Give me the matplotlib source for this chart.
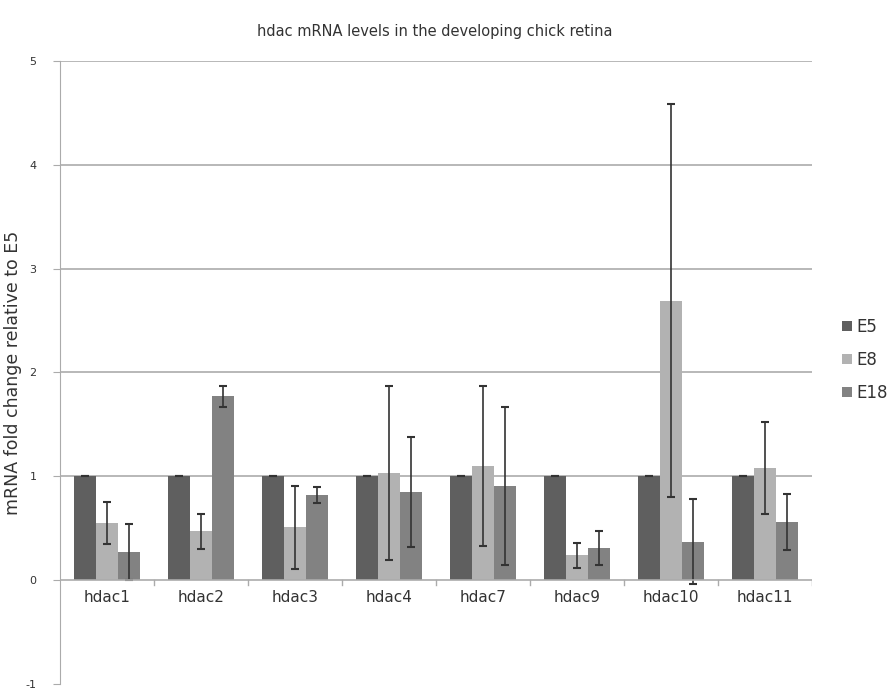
import matplotlib
matplotlib.use("Agg")
import matplotlib.pyplot as plt
import numpy as np

genes = ["hdac1", "hdac2", "hdac3", "hdac4", "hdac7", "hdac9", "hdac10", "hdac11"]
stages = ["E5", "E8", "E18"]

e5 = [1, 1, 1, 1, 1, 1, 1, 1]
e8 = [0.55, 0.47, 0.51, 1.03, 1.10, 0.24, 2.69, 1.08]
e18 = [0.27, 1.77, 0.82, 0.85, 0.91, 0.31, 0.37, 0.56]

e5_err = [0, 0, 0, 0, 0, 0, 0, 0]
e8_err = [0.20, 0.17, 0.40, 0.84, 0.77, 0.12, 1.89, 0.44]
e18_err = [0.27, 0.10, 0.08, 0.53, 0.76, 0.16, 0.41, 0.27]

colors = ["#5f5f5f", "#b2b2b2", "#828282"]

fig = plt.figure(figsize=(8.95, 6.91), dpi=100)
ax = fig.add_axes([0.067, 0.010, 0.840, 0.902])

x = np.arange(len(genes))
w = 0.235
series = [(e5, e5_err), (e8, e8_err), (e18, e18_err)]
for i, (vals, errs) in enumerate(series):
    ax.bar(x + (i - 1) * w, vals, w, color=colors[i], label=stages[i], zorder=2,
           yerr=errs, error_kw=dict(ecolor="#333333", elinewidth=1.2, capsize=3, capthick=1.5))

ax.set_xlim(-0.5, len(genes) - 0.5)
ax.set_ylim(-1, 5)
ax.set_yticks(range(-1, 6))
ax.set_yticklabels([str(v) for v in range(-1, 6)], fontsize=8, color="#333333")
for v in range(1, 6):
    ax.axhline(v, color="#ababab", lw=1.2, zorder=1)
ax.axhline(0, color="#ababab", lw=1.2, zorder=3)

# x tick labels just below the zero line
ax.set_xticks([])
for xi, g in zip(x, genes):
    ax.text(xi, -0.17, g, ha="center", va="center", fontsize=11, color="#333333")
for b in np.arange(0.5, len(genes), 1.0):
    ax.plot([b, b], [0, -0.05], color="#ababab", lw=1)

for s in ["top", "right", "bottom"]:
    ax.spines[s].set_visible(False)
ax.spines["left"].set_color("#ababab")
ax.tick_params(axis="y", direction="out", length=5, color="#ababab", pad=12)

ax.set_ylabel("mRNA fold change relative to E5", fontsize=12.5, color="#333333")
ax.yaxis.set_label_coords(-0.05, 0.5)
fig.text(0.486, 0.955, "hdac mRNA levels in the developing chick retina",
         ha="center", va="center", fontsize=10.5, color="#333333")

ax.legend(loc="center left", bbox_to_anchor=(1.02, 0.52), frameon=False,
          fontsize=12, handlelength=0.6, handleheight=0.6, handletextpad=0.3,
          labelspacing=0.9, labelcolor="#333333")

fig.savefig("out.png", dpi=100)
